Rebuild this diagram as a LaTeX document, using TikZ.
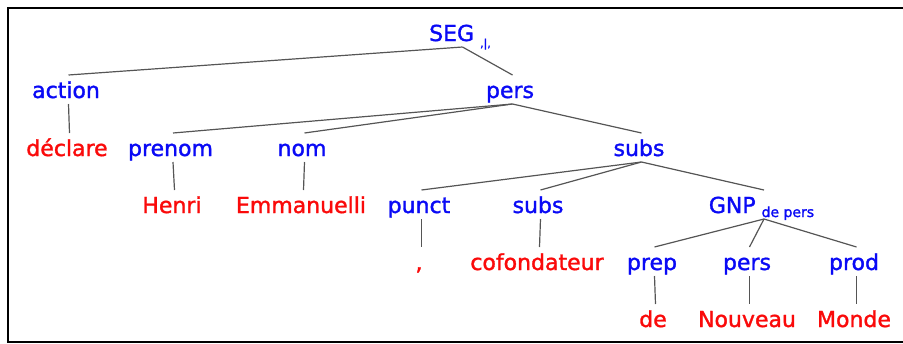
\documentclass[tikz,border=0pt]{standalone}
\usepackage{fontspec}
\setmainfont{DejaVu Sans}
\newfontfamily\treefont{DejaVu Sans}[FakeBold=1.5]
\definecolor{tblue}{RGB}{10,10,245}
\definecolor{tred}{RGB}{250,10,10}
\definecolor{tline}{RGB}{85,85,85}
\newcommand{\subtxt}[1]{{\fontsize{14}{14}\selectfont #1}}
\newcommand{\tedge}[2]{\draw[edge] ([shift={(2.5pt,-6pt)}]#1.base) -- ([shift={(2.5pt,23pt)}]#2.base);}
\begin{document}
\begin{tikzpicture}[x=1pt,y=-1pt,
  lab/.style={anchor=base,inner sep=0pt,font=\treefont\fontsize{22}{24}\selectfont},
  cat/.style={lab,text=tblue},
  word/.style={lab,text=tred},
  edge/.style={draw=tline,line width=1.2pt}]
\useasboundingbox (0,0) rectangle (903,343);
\draw[line width=2pt] (903,7.7) -- (8,7.7) -- (8,341.7) -- (903,341.7);
% row 0
\node[cat] (seg) at (460,41) {SEG\hspace{6pt}\raisebox{-6pt}{\fontsize{11}{11}\selectfont ,|,}};
% row 1
\node[cat] (action) at (66,98) {action};
\node[cat] (pers1) at (510,98) {pers};
% row 2
\node[word] (declare) at (67,156) {déclare};
\node[cat] (prenom) at (170.5,156) {prenom};
\node[cat] (nom) at (302,156) {nom};
\node[cat] (subs1) at (639,156) {subs};
% row 3
\node[word] (henri) at (172,213) {Henri};
\node[word] (emm) at (301,213) {Emmanuelli};
\node[cat] (punct) at (419,213) {punct};
\node[cat] (subs2) at (538,213) {subs};
\node[cat] (gnp) at (761.5,213) {GNP\hspace{6pt}\raisebox{-4pt}{\subtxt{de pers}}};
% row 4
\node[word] (comma) at (419,270) {,};
\node[word] (cofond) at (537,270) {cofondateur};
\node[cat] (prep) at (652,270) {prep};
\node[cat] (pers2) at (747,270) {pers};
\node[cat] (prod) at (854,270) {prod};
% row 5
\node[word] (de) at (653,327) {de};
\node[word] (nouveau) at (747,327) {Nouveau};
\node[word] (monde) at (854,327) {Monde};
% edges
\tedge{seg}{action}
\tedge{seg}{pers1}
\tedge{action}{declare}
\tedge{pers1}{prenom}
\tedge{pers1}{nom}
\tedge{pers1}{subs1}
\tedge{prenom}{henri}
\tedge{nom}{emm}
\tedge{subs1}{punct}
\tedge{subs1}{subs2}
\tedge{subs1}{gnp}
\tedge{punct}{comma}
\tedge{subs2}{cofond}
\tedge{gnp}{prep}
\tedge{gnp}{pers2}
\tedge{gnp}{prod}
\tedge{prep}{de}
\tedge{pers2}{nouveau}
\tedge{prod}{monde}
\end{tikzpicture}
\end{document}
